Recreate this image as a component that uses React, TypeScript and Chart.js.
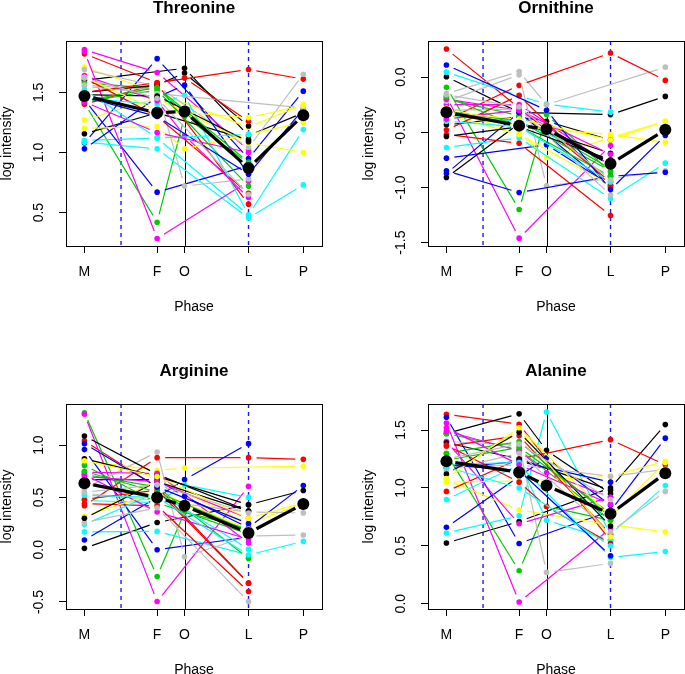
import React, { useEffect, useRef } from "react";
import { Chart, registerables } from "chart.js";

Chart.register(...registerables);

const FONT = "'Liberation Sans', Arial, Helvetica, sans-serif";

// Phase axis
const phaseLabels = ["M", "F", "O", "L", "P"];
const phasePos = [7.2, 35.6, 46.3, 71.3, 92.7];
const dashedPos = [21.5, 71.3];
const solidPos = [46.3];
const xMin = 0;
const xMax = 100;

// R default palette
const palette = ["#000000", "#FF0000", "#00CD00", "#0000FF", "#00FFFF", "#FF00FF", "#FFFF00", "#BEBEBE"];

// Threonine (one entry per subject, per phase)
const thrM = [1.60, 1.82, 1.41, 1.08, 1.10, 1.855, 1.71, 1.69, 1.155, 1.40, 1.58, 1.44, 1.085, 1.84, 1.27, 1.56, 1.50, 1.62, 1.42, 1.03, 1.45, 1.64, 1.20, 1.55, 1.48, 1.50, 1.43, 1.46, 1.52, 1.42, 1.625, 1.62];
const thrF = [null, 1.58, 0.42, 1.78, 1.12, 1.665, 1.50, 1.55, 1.33, 1.57, 1.53, 0.67, 1.03, 0.285, 1.45, 1.52, 1.56, 1.30, 1.52, 1.46, 1.40, 1.43, 1.215, 1.49, 1.47, 1.58, 1.54, 1.30, 1.12, 1.165, 1.35, 1.45];
const thrO = [1.70, null, 1.30, null, null, null, null, null, null, null, null, null, null, null, null, 0.72, 1.66, null, null, 1.56, 1.475, 1.14, 1.03, null, null, 1.62, null, null, null, null, null, null];
const thrL = [1.14, 1.69, 0.91, 0.95, 0.48, 1.02, 1.21, 1.04, 1.105, 0.57, 0.88, 0.89, 0.455, 0.76, 1.08, 0.78, 1.22, 0.66, 0.72, 0.82, 0.48, 0.625, 1.15, null, 1.09, 1.26, 0.92, 0.82, 1.15, 1.00, 1.29, 0.65];
const thrP = [1.33, 1.61, null, 1.51, 1.19, null, 1.40, 1.65, null, null, null, null, 0.73, null, 1.00, null, null, null, null, 1.36, null, null, 1.25, 1.37, null, null, null, null, null, null, 1.39, null];
const thrMean = [1.47, 1.33, 1.34, 0.87, 1.31];
const thrTicks = [0.5, 1.0, 1.5];

// Ornithine
const ornM = [0.003, 0.254, -0.093, -0.735, 0.045, -0.175, -0.30, -0.15, -0.433, -0.39, -0.20, -0.874, -0.638, -0.25, -0.28, -0.22, -0.91, -0.52, -0.31, -0.85, -0.35, -0.20, -0.34, -0.30, -0.538, -0.48, -0.18, 0.11, -0.40, -0.38, -0.32, -0.16];
const ornF = [-0.32, -0.28, -1.20, null, -0.17, -1.46, -0.50, 0.05, -0.36, -0.075, -0.35, -0.32, -0.55, -0.25, -0.45, 0.02, -0.42, -0.60, -0.40, -1.046, -0.40, -0.30, -0.52, -0.29, -0.45, -0.166, -0.45, null, -0.45, -0.30, -0.38, -0.27];
const ornO = [null, null, -0.34, -0.614, -0.245, null, -0.73, -0.25, -0.40, null, null, null, null, null, null, -0.986, null, null, null, null, null, null, null, null, null, null, null, -0.30, null, null, null, null];
const ornL = [-0.34, -0.95, -0.86, -0.98, -0.318, -0.62, -0.55, null, -0.57, 0.218, -0.83, -1.00, -1.10, -0.80, -0.52, -0.92, -0.69, -1.255, -0.85, -0.90, -0.78, -0.70, -0.98, -1.07, -0.75, -0.98, -0.90, -1.02, -0.95, -0.80, -0.57, -0.93];
const ornP = [-0.175, null, null, null, null, null, -0.40, 0.09, null, -0.03, null, null, -0.78, null, -0.59, -0.85, null, null, null, -0.862, null, null, null, null, null, null, null, -0.53, null, null, -0.40, null];
const ornMean = [-0.318, -0.44, -0.47, -0.786, -0.478];
const ornTicks = [-1.5, -1.0, -0.5, 0.0];

// Arginine
const argM = [0.013, 1.04, 1.31, 0.957, 0.17, 1.295, 0.85, 0.58, 1.087, 0.42, 0.806, 0.093, 0.47, 0.74, 0.30, 0.54, 0.87, 0.44, 0.72, 0.67, 0.24, 0.72, 0.32, 0.26, 0.30, 0.48, 0.75, 1.014, 0.52, 0.70, 0.85, 0.55];
const argF = [0.26, 0.60, -0.256, 0.0, 0.175, -0.496, 0.76, 0.934, 0.72, 0.88, 0.45, 0.50, 0.45, 0.73, 0.67, 0.47, 0.70, 0.42, 0.60, 0.67, 0.55, 0.36, 0.55, 0.40, 0.65, 0.57, 0.55, 0.60, 0.50, 0.65, 0.70, 0.62];
const argO = [null, null, 0.36, null, null, null, 0.78, -0.067, null, null, null, 0.67, 0.62, null, null, null, null, null, null, 0.51, null, null, null, null, null, null, null, null, null, null, null, null];
const argL = [0.43, -0.32, 0.20, 0.12, -0.05, 0.605, null, 0.13, 0.37, 0.88, 0.15, 1.014, 0.50, 0.065, 0.25, 0.36, 0.43, -0.40, -0.083, 0.21, 0.005, 0.10, 0.20, -0.496, 0.37, -0.32, 0.18, 0.25, -0.05, 0.30, 0.30, 0.35];
const argP = [0.566, null, null, null, 0.08, null, 0.797, 0.14, null, 0.864, null, null, null, null, 0.44, 0.352, null, null, null, 0.614, null, null, null, null, null, null, null, null, null, null, 0.45, null];
const argMean = [0.636, 0.50, 0.42, 0.16, 0.438];
const argTicks = [-0.5, 0.0, 0.5, 1.0];

// Alanine
const alaM = [0.524, 1.636, 1.295, 1.61, 0.61, 1.56, 1.07, 1.40, 1.47, 0.97, 1.47, 0.66, 0.90, 1.40, 1.05, 1.18, 1.39, 1.36, 1.30, 1.17, 1.20, 1.49, 1.12, 1.15, 1.12, 1.37, 1.24, 1.20, 1.18, 1.52, 1.08, 1.25];
const alaF = [0.71, 1.55, 0.284, 0.52, 0.76, 0.015, 0.81, 1.37, 1.64, 1.25, 1.33, 1.10, 1.20, 0.69, 1.06, 1.20, 1.25, 1.45, 1.40, 1.23, 1.22, 1.32, 1.50, 1.30, 1.48, 1.05, 1.35, 1.15, 1.00, 1.20, 1.52, 1.38];
const alaO = [null, null, 0.84, null, 1.656, null, null, 0.27, 1.324, null, null, 1.26, null, null, null, null, null, null, null, null, 0.72, 1.13, null, null, null, 0.84, null, null, null, null, null, null];
const alaL = [1.00, 0.545, 0.72, 0.80, 0.60, 0.65, 0.68, 0.348, 0.95, 1.417, 0.72, 0.85, 0.40, 0.92, 1.10, 1.10, 0.98, 0.60, 0.75, 1.05, 0.55, 0.92, 0.58, 0.62, 0.67, 0.52, 0.78, 0.414, 0.50, 0.86, 0.75, 0.90];
const alaP = [1.547, null, null, 1.43, 1.02, null, 0.62, null, null, 1.20, null, null, 0.45, null, 1.23, 1.16, null, null, null, null, null, null, null, 0.97, null, null, null, null, null, null, 1.22, null];
const alaMean = [1.23, 1.136, 1.02, 0.776, 1.127];
const alaTicks = [0.0, 0.5, 1.0, 1.5];

type Val = number | null;
type Panel = {
  title: string;
  series: Val[][];
  mean: number[];
  ticks: number[];
  yMin: number;
  yMax: number;
  left: number;
  top: number;
};

const panels: Panel[] = [
  { title: "Threonine", series: [thrM, thrF, thrO, thrL, thrP], mean: thrMean, ticks: thrTicks, yMin: 0.222, yMax: 1.927, left: -20, top: 0 },
  { title: "Ornithine", series: [ornM, ornF, ornO, ornL, ornP], mean: ornMean, ticks: ornTicks, yMin: -1.531, yMax: 0.327, left: 342, top: 0 },
  { title: "Arginine", series: [argM, argF, argO, argL, argP], mean: argMean, ticks: argTicks, yMin: -0.567, yMax: 1.393, left: -20, top: 363 },
  { title: "Alanine", series: [alaM, alaF, alaO, alaL, alaP], mean: alaMean, ticks: alaTicks, yMin: -0.046, yMax: 1.725, left: 342, top: 363 },
];

const CW = 362;
const CH = 362;
const Y_LABEL_OFFSET = 26.5;

const gapLinePlugin = {
  id: "gapLine",
  beforeDatasetDraw(chart: any, args: any) {
    const ds = chart.data.datasets[args.index];
    const xs = chart.scales.x;
    const ys = chart.scales.y;
    const pts = ds.data
      .filter((d: any) => d.y !== null && d.y !== undefined)
      .map((d: any) => [xs.getPixelForValue(d.x), ys.getPixelForValue(d.y)]);
    const ctx = chart.ctx;
    const a = chart.chartArea;
    ctx.save();
    ctx.beginPath();
    ctx.rect(a.left, a.top, a.right - a.left, a.bottom - a.top);
    ctx.clip();
    ctx.strokeStyle = ds.borderColor;
    ctx.lineWidth = ds.lineW;
    ctx.lineCap = "butt";
    ctx.setLineDash([]);
    ctx.beginPath();
    for (let i = 1; i < pts.length; i++) {
      const [x1, y1] = pts[i - 1];
      const [x2, y2] = pts[i];
      const dx = x2 - x1;
      const dy = y2 - y1;
      const len = Math.hypot(dx, dy);
      const g = ds.lineGap;
      if (len <= 2 * g) continue;
      const ux = dx / len;
      const uy = dy / len;
      ctx.moveTo(x1 + ux * g, y1 + uy * g);
      ctx.lineTo(x2 - ux * g, y2 - uy * g);
    }
    ctx.stroke();
    ctx.restore();
  },
};

const refLinesPlugin = {
  id: "refLines",
  beforeDatasetsDraw(chart: any) {
    const ctx = chart.ctx;
    const a = chart.chartArea;
    const xs = chart.scales.x;
    ctx.save();
    ctx.globalAlpha = 1;
    ctx.setLineDash([]);
    ctx.lineWidth = 1;
    ctx.strokeStyle = "#000000";
    solidPos.forEach((v) => {
      const x = Math.round(xs.getPixelForValue(v)) + 0.5;
      ctx.beginPath();
      ctx.moveTo(x, a.top);
      ctx.lineTo(x, a.bottom);
      ctx.stroke();
    });
    ctx.lineWidth = 1.4;
    ctx.setLineDash([4, 4]);
    dashedPos.forEach((v) => {
      const x = xs.getPixelForValue(v);
      ctx.beginPath();
      ctx.strokeStyle = "#1a1aff";
      ctx.moveTo(x, a.top);
      ctx.lineTo(x, a.bottom);
      ctx.stroke();
    });
    ctx.restore();
  },
};

const frameTitlePlugin = {
  id: "frameTitle",
  afterDraw(chart: any, _args: any, opts: any) {
    const ctx = chart.ctx;
    const a = chart.chartArea;
    const ys = chart.scales.y;
    ctx.save();
    ctx.setLineDash([]);
    ctx.strokeStyle = "#000";
    ctx.lineWidth = 1;
    ctx.strokeRect(Math.round(a.left) + 0.5, Math.round(a.top) + 0.5, Math.round(a.right - a.left), Math.round(a.bottom - a.top));
    ctx.fillStyle = "#000";
    // y tick labels, parallel to the axis
    ctx.font = `14px ${FONT}`;
    ctx.textAlign = "center";
    ctx.textBaseline = "middle";
    ys.ticks.forEach((t: any) => {
      const y = ys.getPixelForValue(t.value);
      ctx.save();
      ctx.translate(a.left - Y_LABEL_OFFSET, y);
      ctx.rotate(-Math.PI / 2);
      ctx.fillText(Number(t.value).toFixed(1), 0, 0);
      ctx.restore();
    });
    ctx.font = `bold 17px ${FONT}`;
    ctx.textAlign = "center";
    ctx.textBaseline = "alphabetic";
    ctx.fillText(opts.text, (a.left + a.right) / 2, 12.5);
    ctx.restore();
  },
};

function PanelChart({ panel }: { panel: Panel }) {
  const ref = useRef<HTMLCanvasElement>(null);
  useEffect(() => {
    if (!ref.current) return;
    const n = panel.series[0].length;
    const datasets: any[] = [];
    for (let i = 0; i < n; i++) {
      const color = palette[i % palette.length];
      datasets.push({
        data: phasePos.map((x, k) => ({ x, y: panel.series[k][i] })),
        borderColor: color,
        backgroundColor: color,
        pointRadius: 2.8,
        pointBorderWidth: 0,
        pointHoverRadius: 0,
        showLine: false,
        lineGap: 8,
        lineW: 1.2,
        order: 1000 - i,
      });
    }
    datasets.push({
      data: phasePos.map((x, k) => ({ x, y: panel.mean[k] })),
      borderColor: "#000000",
      backgroundColor: "#000000",
      pointRadius: 6,
      pointBorderWidth: 0,
      pointHoverRadius: 0,
      showLine: false,
      lineGap: 9,
      lineW: 3.3,
      order: 0,
    });

    const axisGrid = { display: true, drawOnChartArea: false, drawTicks: true, tickLength: 7, color: "#000", lineWidth: 1 };
    const axisBorder = { display: true, color: "#000", width: 1 };

    const chart = new Chart(ref.current, {
      type: "scatter",
      data: { datasets },
      plugins: [gapLinePlugin, refLinesPlugin, frameTitlePlugin],
      options: {
        responsive: false,
        maintainAspectRatio: false,
        animation: false,
        events: [],
        layout: { padding: { top: 41, left: 0, right: 20, bottom: 0 }, autoPadding: false },
        plugins: {
          legend: { display: false },
          tooltip: { enabled: false },
          title: { display: false },
          frameTitle: { text: panel.title },
        } as any,
        scales: {
          x: {
            type: "linear",
            min: xMin,
            max: xMax,
            afterBuildTicks: (s: any) => {
              s.ticks = phasePos.map((v) => ({ value: v }));
            },
            afterFit: (s: any) => {
              s.height = CH - 41 - 205;
            },
            grid: axisGrid,
            border: axisBorder,
            ticks: {
              autoSkip: false,
              maxRotation: 0,
              minRotation: 0,
              padding: 11,
              color: "#000",
              font: { family: FONT, size: 14 },
              callback: (_v: any, i: number) => phaseLabels[i],
            },
            title: {
              display: true,
              text: "Phase",
              color: "#000",
              font: { family: FONT, size: 14 },
              padding: { top: 0, bottom: 46.6 },
            },
          },
          y: {
            type: "linear",
            min: panel.yMin,
            max: panel.yMax,
            afterBuildTicks: (s: any) => {
              s.ticks = panel.ticks.map((v) => ({ value: v }));
            },
            afterFit: (s: any) => {
              s.width = 86;
            },
            grid: axisGrid,
            border: axisBorder,
            ticks: {
              display: false,
            },
            title: {
              display: true,
              text: "log intensity",
              color: "#000",
              font: { family: FONT, size: 14 },
              padding: { top: 18.6, bottom: 0 },
            },
          },
        } as any,
      } as any,
    });
    return () => chart.destroy();
  }, [panel]);

  return (
    <div style={{ position: "absolute", left: panel.left, top: panel.top, width: CW, height: CH }}>
      <canvas ref={ref} width={CW} height={CH} style={{ display: "block" }} />
    </div>
  );
}

export default function App() {
  return (
    <div style={{ position: "absolute", left: 0, top: 0, width: 685, height: 674, overflow: "hidden", background: "#fff" }}>
      {panels.map((p) => (
        <PanelChart key={p.title} panel={p} />
      ))}
    </div>
  );
}
